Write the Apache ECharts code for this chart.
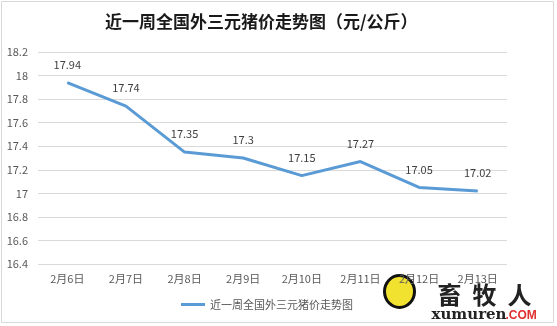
<!DOCTYPE html>
<html>
<head>
<meta charset="utf-8">
<script src="https://cdn.jsdelivr.net/npm/echarts@6/dist/echarts.min.js"></script>
<style>
  html, body { margin: 0; padding: 0; background: #fff; }
  #chart { width: 557px; height: 326px; }
</style>
</head>
<body>
<div id="chart"></div>
<script>
// Weekly price of crossbred (外三元) hogs, yuan per kg
const categories = ['2月6日', '2月7日', '2月8日', '2月9日', '2月10日', '2月11日', '2月12日', '2月13日'];
const prices = [17.94, 17.74, 17.35, 17.3, 17.15, 17.27, 17.05, 17.02];
const seriesName = '近一周全国外三元猪价走势图';
const titleText = '近一周全国外三元猪价走势图（元/公斤）';

const font = '"Noto Sans CJK SC", "Liberation Sans", sans-serif';
const chart = echarts.init(document.getElementById('chart'));

const logoFont = 'bold 24px "Noto Sans CJK SC", serif';

chart.setOption({
  backgroundColor: '#fff',
  animation: false,
  title: {
    text: titleText,
    left: 100,
    top: 8,
    textStyle: { fontFamily: font, fontSize: 17, fontWeight: 'bold', color: '#1a1a1a' }
  },
  legend: {
    bottom: 11,
    left: 176,
    itemWidth: 24,
    itemHeight: 3,
    icon: 'rect',
    textStyle: { fontFamily: font, fontSize: 11, color: '#595959' },
    data: [seriesName]
  },
  grid: { left: 38, right: 50, top: 52, bottom: 62 },
  xAxis: {
    type: 'category',
    data: categories,
    boundaryGap: true,
    axisLine: { show: false },
    axisTick: { show: false },
    axisLabel: { fontFamily: font, fontSize: 11, color: '#595959', margin: 9 }
  },
  yAxis: {
    type: 'value',
    min: 16.4,
    max: 18.2,
    interval: 0.2,
    axisLine: { show: false },
    axisTick: { show: false },
    splitLine: { lineStyle: { color: '#d9d9d9', width: 1 } },
    axisLabel: {
      fontFamily: font, fontSize: 11, color: '#595959', margin: 10,
      formatter: v => String(parseFloat(v.toFixed(1)))
    }
  },
  series: [{
    name: seriesName,
    type: 'line',
    data: prices,
    symbol: 'circle',
    symbolSize: 1,
    showSymbol: true,
    lineStyle: { color: '#5b9bd5', width: 3 },
    itemStyle: { color: '#5b9bd5' },
    label: {
      show: true,
      position: 'top',
      distance: 12,
      fontFamily: font,
      fontSize: 11,
      color: '#404040'
    }
  }],
  graphic: [
    {
      type: 'rect',
      shape: { x: 1.5, y: 1.5, width: 552, height: 321 },
      style: { fill: 'none', stroke: '#d9d9d9', lineWidth: 1 },
      silent: true
    },
    {
      type: 'group',
      left: 383,
      top: 274,
      z: -1,
      children: [
        {
          type: 'ellipse',
          shape: { cx: 20, cy: 21, rx: 15, ry: 16 },
          style: { fill: '#f2e230', stroke: '#111', lineWidth: 3 }
        },
        { type: 'text', style: { x: 58, y: 12, text: '畜', font: logoFont, fill: '#222' } },
        { type: 'text', style: { x: 93, y: 12, text: '牧', font: logoFont, fill: '#222' } },
        { type: 'text', style: { x: 128, y: 12, text: '人', font: logoFont, fill: '#222' } },
        {
          type: 'text',
          style: { x: 52, y: 37, text: 'xumuren', font: 'bold 15px "DejaVu Serif", serif', fill: '#222' }
        },
        {
          type: 'text',
          style: { x: 126, y: 39, text: '.COM', font: 'bold 12px "Liberation Sans", sans-serif', fill: '#e03030' }
        }
      ]
    }
  ]
});
</script>
</body>
</html>
